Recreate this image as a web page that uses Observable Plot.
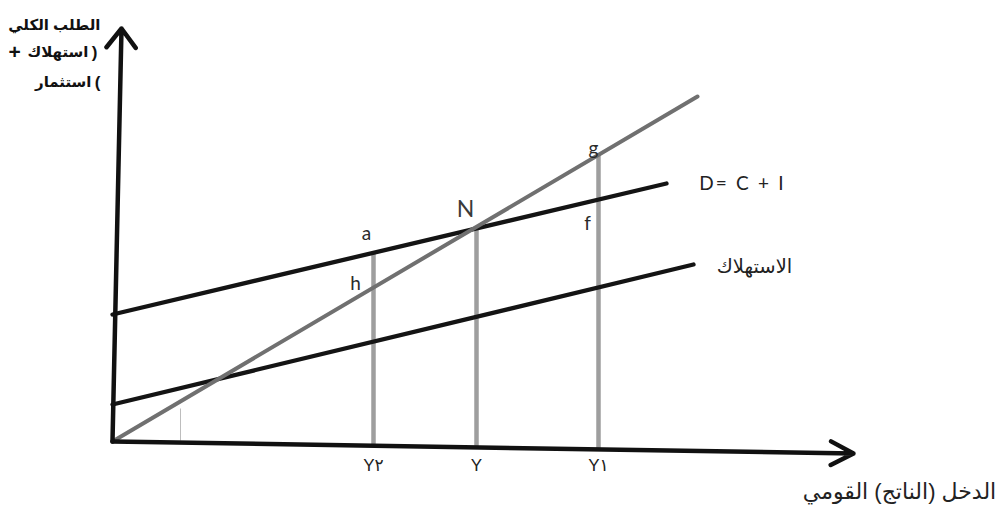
<!DOCTYPE html>
<html><head><meta charset="utf-8">
<script src="https://cdn.jsdelivr.net/npm/d3@7"></script>
<script src="https://cdn.jsdelivr.net/npm/@observablehq/plot@0.6"></script>
<style>body{margin:0;background:#fff} #chart{width:1007px;height:507px}</style>
</head><body><div id="chart"></div>
<script>
// Income levels on the horizontal axis (Y2, Y, Y1)
const incomeTicks = [261, 364, 486];
const incomeTickLabels = ["Y٢", "Y", "Y١"];
// Heights where the vertical guides end (a on D, N, g on 45° line)
const verticalTops = [189, 212, 287];
const verticalBottoms = [-4, -6, -7];
// Aggregate demand D = C + I
const demandX = [0, 554];
const demandY = [127, 258];
// Consumption
const consumptionX = [0, 581];
const consumptionY = [37, 177];
// 45° line (supply = income)
const supplyX = [0, 585];
const supplyY = [0, 345];
// Faint guide near the origin
const guideX = [68];
const guideY1 = [1];
const guideY2 = [33];
// Axes (slightly tilted as in the scan)
const axisFrom = [[0, 0], [0, 0]];
const axisTo = [[741, -12], [9, 413]];
// Point labels
const pointLabels = ["a", "h", "g", "f"];
const pointLabelX = [254, 243, 481, 475];
const pointLabelY = [208, 158, 293, 218];
const eqLabel = ["N"];
const eqLabelX = [353];
const eqLabelY = [232];
// Line labels
const lineLabels = ["D= C + I", "الاستهلاك"];
const lineLabelX = [630, 642];
const lineLabelY = [258, 175];
// Y-axis title: words and symbols (الطلب الكلي (استهلاك + استثمار))
const yTitleWords = ["الطلب الكلي", "استهلاك", "استثمار"];
const yTitleWordX = [-12, -24, -21];
const yTitleWordY = [416, 389, 359];
const yTitleSymbols = [")", "+", "("];
const yTitleSymbolX = [-18, -98, -15];
const yTitleSymbolY = [389, 389, 359];
// X-axis title
const xTitle = ["الدخل (الناتج) القومي"];
const xTitleX = [787];
const xTitleY = [-50];

const toPts = (xs, ys) => xs.map((x, i) => ({x, y: ys[i]}));
const verticals = incomeTicks.map((x, i) => ({x, y1: verticalBottoms[i], y2: verticalTops[i]}));
const ticks = incomeTicks.map((x, i) => ({x, label: incomeTickLabels[i]}));
const axes = axisFrom.map((f, i) => ({x1: f[0], y1: f[1], x2: axisTo[i][0], y2: axisTo[i][1], i}));
const arabicFont = "'Liberation Sans','DejaVu Sans',sans-serif";
const latinFont = "Lato,'Open Sans',sans-serif";

const chart = Plot.plot({
  width: 1007, height: 507,
  marginLeft: 112, marginRight: 154, marginTop: 28, marginBottom: 66,
  x: {domain: [0, 741], axis: null},
  y: {domain: [0, 413], axis: null},
  style: {background: "white", overflow: "visible"},
  marks: [
    Plot.link(guideX.map((x, i) => ({x, y1: guideY1[i], y2: guideY2[i]})), {x1: "x", x2: "x", y1: "y1", y2: "y2", stroke: "#bdbdbd", strokeWidth: 1}),
    Plot.link(verticals, {x1: "x", x2: "x", y1: "y1", y2: "y2", stroke: "#9e9e9e", strokeWidth: 4.5, strokeLinecap: "butt"}),
    Plot.line(toPts(demandX, demandY), {x: "x", y: "y", stroke: "#141414", strokeWidth: 4.3}),
    Plot.line(toPts(consumptionX, consumptionY), {x: "x", y: "y", stroke: "#141414", strokeWidth: 4.3}),
    Plot.line(toPts(supplyX, supplyY), {x: "x", y: "y", stroke: "#707070", strokeWidth: 4}),
    Plot.arrow(axes.filter(d => d.i === 0), {x1: "x1", y1: "y1", x2: "x2", y2: "y2", stroke: "#111", strokeWidth: 4.5, headLength: 8.5, headAngle: 55}),
    Plot.arrow(axes.filter(d => d.i === 1), {x1: "x1", y1: "y1", x2: "x2", y2: "y2", stroke: "#111", strokeWidth: 4.5, headLength: 8, headAngle: 75}),
    Plot.text(ticks, {x: "x", y: 0, text: "label", dy: 24, fontSize: 17, fill: "#222", fontFamily: arabicFont}),
    Plot.text(pointLabels, {x: (d, i) => pointLabelX[i], y: (d, i) => pointLabelY[i], text: d => d, fontSize: 19, fill: "#2a2a2a", fontFamily: latinFont}),
    Plot.text(eqLabel, {x: (d, i) => eqLabelX[i], y: (d, i) => eqLabelY[i], text: d => d, fontSize: 23, fill: "#3a3a3a", fontFamily: latinFont}),
    Plot.text(lineLabels.slice(0, 1), {x: lineLabelX[0], y: lineLabelY[0], text: d => d, fontSize: 19, fill: "#222", fontFamily: latinFont}),
    Plot.text(lineLabels.slice(1), {x: lineLabelX[1], y: lineLabelY[1], text: d => d, fontSize: 19.5, fill: "#222", fontFamily: arabicFont}),
    Plot.text(yTitleWords, {x: (d, i) => yTitleWordX[i], y: (d, i) => yTitleWordY[i], text: d => d, textAnchor: "end", fontSize: 15, fontWeight: "bold", fill: "#111", fontFamily: arabicFont}),
    Plot.text(yTitleSymbols, {x: (d, i) => yTitleSymbolX[i], y: (d, i) => yTitleSymbolY[i], text: d => d, fontSize: (d) => d === "+" ? 21 : 17, fontWeight: "bold", fill: "#111", fontFamily: arabicFont}),
    Plot.text(xTitle, {x: (d, i) => xTitleX[i], y: (d, i) => xTitleY[i], text: d => d, fontSize: 22, fill: "#222", fontFamily: arabicFont})
  ]
});
chart.querySelectorAll("text").forEach(t => {
  if (t.textContent.indexOf("D=") === 0) t.setAttribute("letter-spacing", "2.2");
});
document.getElementById("chart").append(chart);
</script>
</body></html>
